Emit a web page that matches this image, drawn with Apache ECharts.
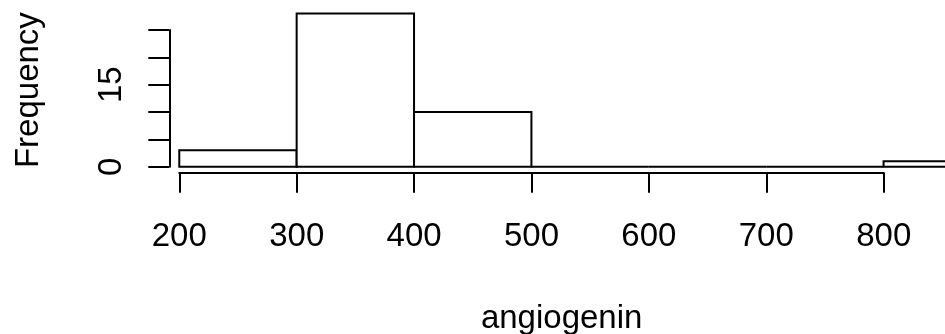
<!DOCTYPE html>
<html>
<head>
<meta charset="utf-8">
<script src="https://cdn.jsdelivr.net/npm/echarts@6/dist/echarts.min.js"></script>
<style>
html,body{margin:0;padding:0;background:#fff;}
#chart{width:945px;height:334px;}
</style>
</head>
<body>
<div id="chart"></div>
<script>
// Histogram data (bin edges and counts)
const breaks = [200, 300, 400, 500, 600, 700, 800, 900];
const counts = [3, 28, 10, 0, 0, 0, 1];
// Axis ticks / labels
const xTicks = [200, 300, 400, 500, 600, 700, 800];
const yTicks = [0, 5, 10, 15, 20, 25];
const yLabelShown = [0, 15];
const xTitle = 'angiogenin';
const yTitle = 'Frequency';

const FONT = '"Liberation Sans", Arial, Helvetica, sans-serif';
const FS = 33;

const binData = counts.map((c, i) => [breaks[i], breaks[i + 1], c]);

const chart = echarts.init(document.getElementById('chart'), null, {renderer: 'canvas'});
chart.setOption({
  backgroundColor: '#ffffff',
  animation: false,
  textStyle: {fontFamily: FONT, color: '#000'},
  grid: [
    {left: 169.3, top: 7.4, width: 784.7, height: 165.4, outerBoundsMode: 'none', containLabel: false},
    {left: 169.3, top: 30, width: 10, height: 136.7, outerBoundsMode: 'none', containLabel: false},
    {left: 179.3, top: 100, width: 704.4, height: 72.7, outerBoundsMode: 'none', containLabel: false}
  ],
  xAxis: [
    {
      gridIndex: 0, type: 'value', min: 191.5, max: 860,
      axisLine: {show: false}, axisTick: {show: false}, axisLabel: {show: false}, splitLine: {show: false},
      name: xTitle, nameLocation: 'middle', nameGap: 130,
      nameTextStyle: {fontSize: FS, color: '#000', fontFamily: FONT}
    },
    {gridIndex: 1, type: 'value', show: false},
    {
      gridIndex: 2, type: 'value', position: 'bottom',
      min: xTicks[0], max: xTicks[xTicks.length - 1], interval: xTicks[1] - xTicks[0],
      axisLine: {show: true, lineStyle: {color: '#000', width: 2}},
      axisTick: {show: true, length: 20, lineStyle: {color: '#000', width: 2}},
      axisLabel: {show: true, fontSize: FS, color: '#000', fontFamily: FONT, margin: 48,
        showMinLabel: true, showMaxLabel: true},
      splitLine: {show: false}
    }
  ],
  yAxis: [
    {
      gridIndex: 0, type: 'value', min: -1.12, max: 29.12,
      axisLine: {show: false}, axisTick: {show: false}, axisLabel: {show: false}, splitLine: {show: false},
      name: yTitle, nameLocation: 'middle', nameGap: 124, nameRotate: 90,
      nameTextStyle: {fontSize: FS, color: '#000', fontFamily: FONT}
    },
    {
      gridIndex: 1, type: 'value',
      min: yTicks[0], max: yTicks[yTicks.length - 1], interval: yTicks[1] - yTicks[0],
      axisLine: {show: true, lineStyle: {color: '#000', width: 2}},
      axisTick: {show: true, length: 21, lineStyle: {color: '#000', width: 2}},
      axisLabel: {show: true, rotate: 90, fontSize: FS, color: '#000', fontFamily: FONT, margin: 41,
        showMinLabel: true, showMaxLabel: true,
        formatter: v => (yLabelShown.indexOf(v) >= 0 ? String(v) : '')},
      splitLine: {show: false}
    },
    {gridIndex: 2, type: 'value', show: false}
  ],
  series: [{
    type: 'custom',
    xAxisIndex: 0, yAxisIndex: 0,
    clip: false,
    data: binData,
    encode: {x: [0, 1], y: 2},
    renderItem: function (params, api) {
      const p0 = api.coord([api.value(0), 0]);
      const p1 = api.coord([api.value(1), api.value(2)]);
      return {
        type: 'rect',
        shape: {x: p0[0], y: p1[1], width: p1[0] - p0[0], height: p0[1] - p1[1]},
        style: {fill: '#ffffff', stroke: '#000000', lineWidth: 2}
      };
    }
  }]
});
</script>
</body>
</html>
